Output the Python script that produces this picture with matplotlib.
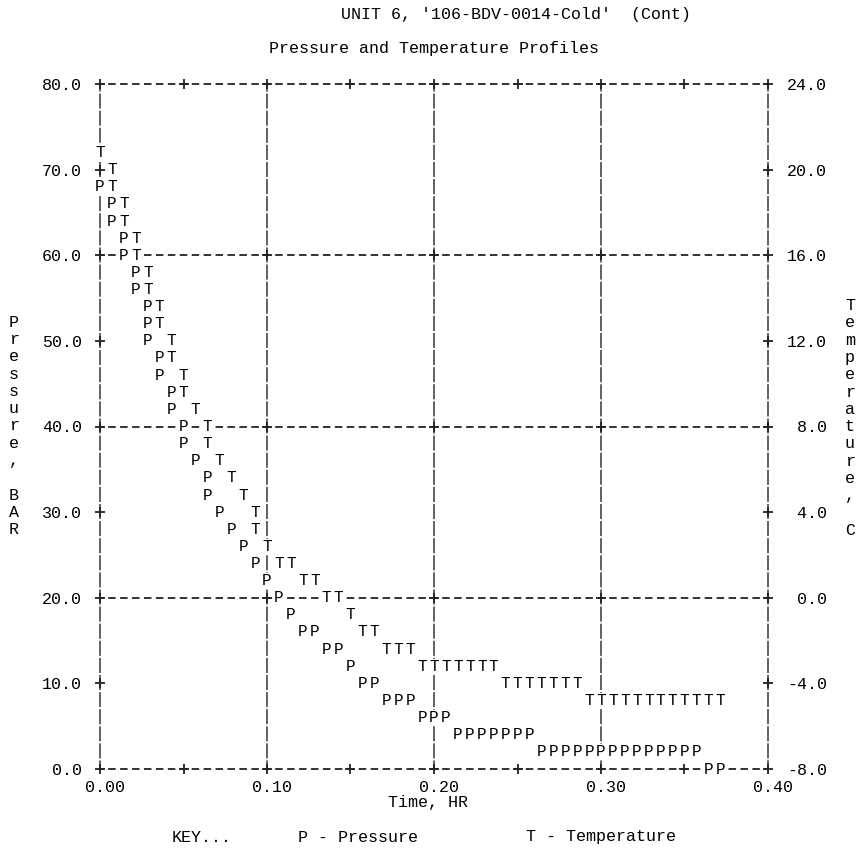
import matplotlib.pyplot as plt
from matplotlib.transforms import ScaledTranslation

plt.rcParams['font.family'] = ['Liberation Mono', 'DejaVu Sans Mono']
plt.rcParams['lines.scale_dashes'] = False

# printed marks: time (hr) and value of every 'P' and 'T' on the line-printer plot
time_p = [0.0, 0.0071, 0.0071, 0.0143, 0.0143, 0.0214, 0.0214, 0.0286, 0.0286, 0.0286,
          0.0357, 0.0357, 0.0429, 0.0429, 0.05, 0.05, 0.0571, 0.0643, 0.0643, 0.0714,
          0.0786, 0.0857, 0.0929, 0.1, 0.1071, 0.1143, 0.1214, 0.1286, 0.1357, 0.1429,
          0.15, 0.1571, 0.1643, 0.1714, 0.1786, 0.1857, 0.1929, 0.2, 0.2071,
          0.2143, 0.2214, 0.2286, 0.2357, 0.2429, 0.25, 0.2571,
          0.2643, 0.2714, 0.2786, 0.2857, 0.2929, 0.3, 0.3071, 0.3143, 0.3214, 0.3286,
          0.3357, 0.3429, 0.35, 0.3571,
          0.3643, 0.3714]
pressure = [68, 66, 64, 62, 60, 58, 56, 54, 52, 50,
            48, 46, 44, 42, 40, 38, 36, 34, 32, 30,
            28, 26, 24, 22, 20, 18, 16, 16, 14, 14,
            12, 10, 10, 8, 8, 8, 6, 6, 6,
            4, 4, 4, 4, 4, 4, 4,
            2, 2, 2, 2, 2, 2, 2, 2, 2, 2,
            2, 2, 2, 2,
            0, 0]

time_t = [0.0, 0.0071, 0.0071, 0.0143, 0.0143, 0.0214, 0.0214, 0.0286, 0.0286, 0.0357,
          0.0357, 0.0429, 0.0429, 0.05, 0.05, 0.0571, 0.0643, 0.0643, 0.0714, 0.0786,
          0.0857, 0.0929, 0.0929, 0.1, 0.1071, 0.1143, 0.1214, 0.1286, 0.1357, 0.1429,
          0.15, 0.1571, 0.1643, 0.1714, 0.1786, 0.1857,
          0.1929, 0.2, 0.2071, 0.2143, 0.2214, 0.2286, 0.2357,
          0.2429, 0.25, 0.2571, 0.2643, 0.2714, 0.2786, 0.2857,
          0.2929, 0.3, 0.3071, 0.3143, 0.3214, 0.3286, 0.3357, 0.3429, 0.35, 0.3571,
          0.3643, 0.3714]
temperature = [20.8, 20.0, 19.2, 18.4, 17.6, 16.8, 16.0, 15.2, 14.4, 13.6,
               12.8, 12.0, 11.2, 10.4, 9.6, 8.8, 8.0, 7.2, 6.4, 5.6,
               4.8, 4.0, 3.2, 2.4, 1.6, 1.6, 0.8, 0.8, 0.0, 0.0,
               -0.8, -1.6, -1.6, -2.4, -2.4, -2.4,
               -3.2, -3.2, -3.2, -3.2, -3.2, -3.2, -3.2,
               -4.0, -4.0, -4.0, -4.0, -4.0, -4.0, -4.0,
               -4.8, -4.8, -4.8, -4.8, -4.8, -4.8, -4.8, -4.8, -4.8, -4.8,
               -4.8, -4.8]

x_ticks = [0.0, 0.1, 0.2, 0.3, 0.4]
x_labels = ['0.00', '0.10', '0.20', '0.30', '0.40']
x_minor = [0.05, 0.15, 0.25, 0.35]
p_ticks = [0, 10, 20, 30, 40, 50, 60, 70, 80]
p_labels = ['0.0', '10.0', '20.0', '30.0', '40.0', '50.0', '60.0', '70.0', '80.0']
p_grid = [0, 20, 40, 60, 80]
t_ticks = [-8, -4, 0, 4, 8, 12, 16, 20, 24]
t_labels = ['-8.0', '-4.0', ' 0.0', ' 4.0', ' 8.0', '12.0', '16.0', '20.0', '24.0']

W, H = 858, 849
fig = plt.figure(figsize=(W / 100, H / 100), dpi=100)
ax = fig.add_axes([100 / W, 1 - 769 / H, 668 / W, 685 / H])
ax.set_xlim(0, 0.4)
ax.set_ylim(0, 80)
ax2 = ax.twinx()
ax2.set_ylim(-8, 24)
for a in (ax, ax2):
    for s in a.spines.values():
        s.set_visible(False)

pt = 0.72  # points per pixel
# vertical '|' columns and dashed '-' rows of the printer grid
for x in x_ticks:
    ax.plot([x, x], [80, 0], color='#555555', lw=1.3,
            linestyle=(7.56 * pt, (15.1 * pt, 2.0 * pt)), clip_on=False, zorder=1)
for y in p_grid:
    ax.plot([0, 0.4], [y, y], color='#222222', lw=1.3,
            linestyle=(3.75 * pt, (7.5 * pt, 4.43 * pt)), clip_on=False, zorder=1)

# '+' marks
px, py = [], []
for x in x_ticks + x_minor:
    px += [x, x]
    py += [0, 80]
for y in [20, 40, 60]:
    for x in x_ticks:
        px.append(x)
        py.append(y)
for y in [10, 30, 50, 70]:
    px += [0, 0.4]
    py += [y, y]
ax.plot(px, py, '+', ms=7, mew=1.3, color='#222222', clip_on=False, zorder=2)

box = dict(boxstyle='square,pad=0', facecolor='white', edgecolor='none')
for t, p in zip(time_p, pressure):
    ax.text(t, p, 'P', ha='center', va='center', fontsize=11.5, bbox=box, zorder=3)
for t, v in zip(time_t, temperature):
    ax2.text(t, v, 'T', ha='center', va='center', fontsize=11.5, bbox=box, zorder=3)

ax.set_xticks(x_ticks, x_labels)
ax.set_yticks(p_ticks, p_labels)
ax2.set_yticks(t_ticks, t_labels)
ax.tick_params(axis='x', length=0, labelsize=12, pad=8)
ax.tick_params(axis='y', length=0, labelsize=12, pad=13)
ax2.tick_params(axis='y', length=0, labelsize=12, pad=13.7)
shift = ScaledTranslation(5 / 100, 0, fig.dpi_scale_trans)
for lab in ax.get_xticklabels():
    lab.set_transform(lab.get_transform() + shift)

fig.text(516 / W, 1 - 14 / H, "UNIT 6, '106-BDV-0014-Cold'  (Cont)",
         ha='center', va='center', fontsize=12)
fig.text(434 / W, 1 - 48 / H, 'Pressure and Temperature Profiles',
         ha='center', va='center', fontsize=12)
fig.text(428 / W, 1 - 803 / H, 'Time, HR', ha='center', va='center', fontsize=12)
fig.text(14 / W, 1 - 426 / H, '\n'.join('Pressure, BAR'), ha='center', va='center',
         fontsize=12, linespacing=1.19)
fig.text(850 / W, 1 - 418 / H, '\n'.join('Temperature, C'), ha='center', va='center',
         fontsize=12, linespacing=1.19)
fig.text(202 / W, 1 - 837 / H, 'KEY...', ha='center', va='center', fontsize=12)
fig.text(358 / W, 1 - 837 / H, 'P - Pressure', ha='center', va='center', fontsize=12)
fig.text(601 / W, 1 - 837 / H, 'T - Temperature', ha='center', va='center', fontsize=12)

fig.savefig('out.png', dpi=100)
